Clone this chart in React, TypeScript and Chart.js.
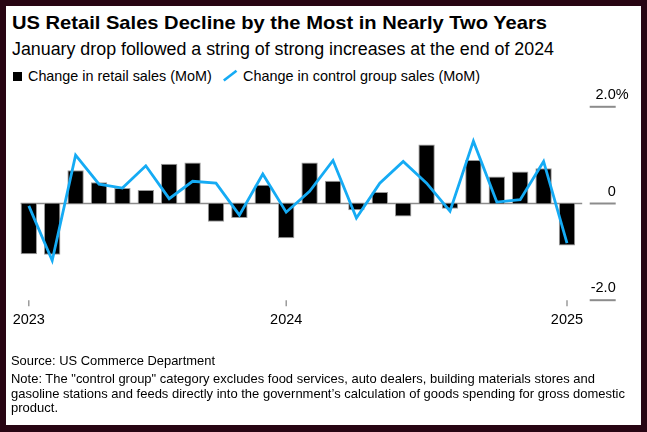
import React, { useEffect, useLayoutEffect, useRef } from "react";
import { Chart, registerables } from "chart.js";

Chart.register(...registerables);

// ---- Data (Feb 2023 .. Jan 2025), month-over-month % change ----
const months = [
  "Feb 2023", "Mar 2023", "Apr 2023", "May 2023", "Jun 2023", "Jul 2023",
  "Aug 2023", "Sep 2023", "Oct 2023", "Nov 2023", "Dec 2023", "Jan 2024",
  "Feb 2024", "Mar 2024", "Apr 2024", "May 2024", "Jun 2024", "Jul 2024",
  "Aug 2024", "Sep 2024", "Oct 2024", "Nov 2024", "Dec 2024", "Jan 2025",
];
const retailSales = [
  -1.05, -1.06, 0.69, 0.44, 0.32, 0.28, 0.82, 0.85, -0.38, -0.3, 0.39, -0.72,
  0.85, 0.47, -0.14, 0.24, -0.27, 1.22, -0.11, 0.9, 0.56, 0.66, 0.73, -0.87,
];
const controlGroup = [
  -0.05, -1.18, 1.0, 0.4, 0.32, 0.78, 0.1, 0.46, 0.42, -0.24, 0.61, -0.18,
  0.25, 0.89, -0.3, 0.42, 0.87, 0.42, -0.16, 1.29, 0.03, 0.08, 0.87, -0.82,
];
const yearTickIndex = [0, 11, 23];
const yearTickLabels = ["2023", "2024", "2025"];
const yTickValues = [2, 0, -2];
const yTickLabels = ["2.0", "0", "-2.0"];
const yTickSuffix = ["%", "", ""];

const FONT = '"Liberation Sans", Arial, Helvetica, sans-serif';
const BLUE = "#15abf4";
const GREY = "#8c8c8c";

const decorPlugin = {
  id: "decor",
  beforeDatasetsDraw(chart: any) {
    const { ctx, chartArea, scales } = chart;
    const x = scales.x;
    const y = scales.y;
    ctx.save();
    // zero line
    const y0 = y.getPixelForValue(0);
    ctx.strokeStyle = GREY;
    ctx.lineWidth = 1.5;
    ctx.beginPath();
    ctx.moveTo(chartArea.left + 3.5, y0);
    ctx.lineTo(chartArea.right + 3.5, y0);
    ctx.stroke();
    // right-hand labels with short rules
    ctx.font = `14.5px ${FONT}`;
    ctx.textBaseline = "alphabetic";
    yTickValues.forEach((v, i) => {
      const py = y.getPixelForValue(v);
      ctx.strokeStyle = GREY;
      ctx.lineWidth = 2;
      ctx.beginPath();
      ctx.moveTo(chartArea.right + 11, py);
      ctx.lineTo(chartArea.right + 37, py);
      ctx.stroke();
      ctx.fillStyle = "#000";
      ctx.textAlign = "right";
      ctx.fillText(yTickLabels[i], chartArea.right + 37, py - 8);
      if (yTickSuffix[i]) {
        ctx.textAlign = "left";
        ctx.fillText(yTickSuffix[i], chartArea.right + 37, py - 8);
      }
    });
    // year ticks
    yearTickIndex.forEach((idx, i) => {
      const px = x.getPixelForValue(idx);
      ctx.strokeStyle = GREY;
      ctx.lineWidth = 1.3;
      ctx.beginPath();
      ctx.moveTo(px, chartArea.bottom);
      ctx.lineTo(px, chartArea.bottom + 6);
      ctx.stroke();
      ctx.fillStyle = "#000";
      ctx.textAlign = "center";
      ctx.fillText(yearTickLabels[i], px, chartArea.bottom + 24);
    });
    ctx.restore();
  },
};

function FitText(props: {
  x: number;
  baseline: number;
  width: number;
  size: number;
  weight?: number;
  text: string;
}) {
  const ref = useRef<HTMLSpanElement>(null);
  useLayoutEffect(() => {
    const el = ref.current;
    if (!el) return;
    el.style.transform = "none";
    const w = el.getBoundingClientRect().width;
    if (w > 0) el.style.transform = `scaleX(${props.width / w})`;
  }, [props.text, props.width, props.size]);
  return (
    <span
      ref={ref}
      style={{
        position: "absolute",
        left: props.x,
        top: props.baseline - props.size * 0.8465,
        fontSize: props.size,
        lineHeight: `${props.size}px`,
        fontWeight: props.weight ?? 400,
        fontFamily: FONT,
        whiteSpace: "nowrap",
        transformOrigin: "0 0",
        color: "#000",
        display: "inline-block",
      }}
    >
      {props.text}
    </span>
  );
}

export default function App() {
  const canvasRef = useRef<HTMLCanvasElement>(null);

  useEffect(() => {
    if (!canvasRef.current) return;
    const chart = new Chart(canvasRef.current, {
      type: "bar",
      data: {
        labels: months,
        datasets: [
          {
            type: "line",
            label: "Change in control group sales (MoM)",
            data: controlGroup,
            borderColor: BLUE,
            backgroundColor: BLUE,
            borderWidth: 2.8,
            pointRadius: 0,
            tension: 0,
            order: 0,
          } as any,
          {
            type: "bar",
            label: "Change in retail sales (MoM)",
            data: retailSales,
            backgroundColor: "#000",
            borderColor: "#9a9a9a",
            borderWidth: 1,
            barPercentage: 0.7,
            categoryPercentage: 1,
            order: 1,
          },
        ],
      },
      options: {
        animation: false,
        responsive: false,
        layout: {
          padding: { left: 17.1, right: 68.3, top: 106.8, bottom: 131.8 },
        },
        plugins: {
          legend: { display: false },
          tooltip: { enabled: false },
          title: { display: false },
        },
        scales: {
          x: { display: false, offset: true },
          y: { display: false, min: -2, max: 2 },
        },
      },
      plugins: [decorPlugin],
    });
    return () => chart.destroy();
  }, []);

  return (
    <div
      style={{
        position: "absolute",
        left: 0,
        top: 0,
        width: 647,
        height: 432,
        background: "#280513",
        overflow: "hidden",
      }}
    >
      <div
        style={{
          position: "absolute",
          left: 6,
          top: 6,
          width: 635,
          height: 419,
          background: "#fff",
        }}
      />
      <FitText x={12} baseline={29.5} width={535} size={19} weight={700}
        text="US Retail Sales Decline by the Most in Nearly Two Years" />
      <FitText x={12} baseline={56.3} width={542} size={17.5}
        text="January drop followed a string of strong increases at the end of 2024" />
      <div style={{ position: "absolute", left: 13.3, top: 72, width: 9, height: 9, background: "#000" }} />
      <FitText x={28} baseline={80.7} width={183.7} size={14.4}
        text="Change in retail sales (MoM)" />
      <svg style={{ position: "absolute", left: 0, top: 0 }} width={647} height={100}>
        <line x1={223.8} y1={80.5} x2={236.5} y2={70.8} stroke={BLUE} strokeWidth={2.6} />
      </svg>
      <FitText x={242.7} baseline={80.7} width={237} size={14.4}
        text="Change in control group sales (MoM)" />
      <canvas
        ref={canvasRef}
        width={647}
        height={432}
        style={{ position: "absolute", left: 0, top: 0, width: 647, height: 432 }}
      />
      <FitText x={11.2} baseline={365.5} width={204} size={13}
        text="Source: US Commerce Department" />
      <FitText x={11.2} baseline={383} width={584} size={13}
        text={'Note: The "control group" category excludes food services, auto dealers, building materials stores and'} />
      <FitText x={11.2} baseline={397.8} width={614} size={13}
        text="gasoline stations and feeds directly into the government’s calculation of goods spending for gross domestic" />
      <FitText x={11.2} baseline={412.5} width={47} size={13}
        text="product." />
    </div>
  );
}
